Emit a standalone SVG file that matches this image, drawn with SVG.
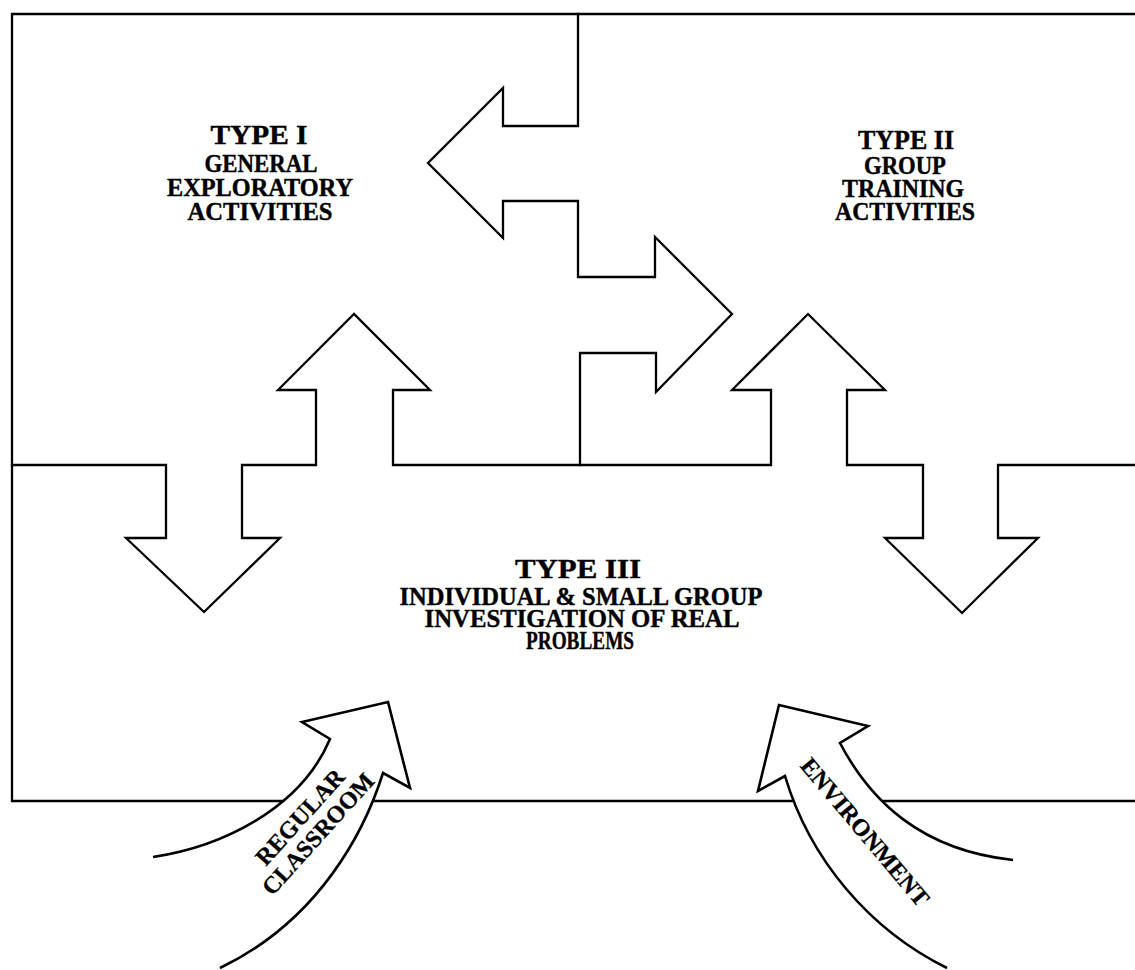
<svg xmlns="http://www.w3.org/2000/svg" width="1135" height="970" viewBox="0 0 1135 970">
  <style>
    .ln { fill: none; stroke: #000; stroke-width: 2.3; stroke-linejoin: miter; stroke-linecap: square; }
    .arw { fill: #fff; stroke: #000; stroke-width: 2.6; stroke-linejoin: miter; }
    .hd { font-family: "Liberation Serif", "Times New Roman", serif; font-weight: bold; font-size: 27px; text-anchor: middle; fill: #000; stroke: #000; stroke-width: 0.4; }
    .sb { font-family: "Liberation Serif", "Times New Roman", serif; font-weight: bold; font-size: 25px; text-anchor: middle; fill: #000; stroke: #000; stroke-width: 0.4; }
    .cv { font-family: "Liberation Serif", "Times New Roman", serif; font-weight: bold; font-size: 24px; text-anchor: middle; fill: #000; stroke: #000; stroke-width: 0.3; }
  </style>
  <rect width="1135" height="970" fill="#fff"/>

  <g id="frame">
    <polyline class="ln" points="1135,14 12,14 12,801 1135,801"/>
  </g>

  <g id="connectors">
    <polyline class="ln" points="578,14 578,126 503,126 503,88 428,163 503,238 503,201 578,201 578,277 655,277 655,237 732,314 656,392 656,353 580,353 580,465"/>
    <polyline class="ln" points="12,465 166,465 166,538 126,538 204,612 280,538 242,538 242,465 316,465 316,390 278,390 354,314 430,390 393,390 393,465 771,465 771,390 732,390 808,314 885,390 847,390 847,465 923,465 923,538 885,538 962,613 1038,538 998,538 998,465 1135,465"/>
  </g>

  <g id="type1">
    <text class="hd" x="259" y="144" textLength="97" lengthAdjust="spacingAndGlyphs">TYPE I</text>
    <text class="sb" x="261" y="172" textLength="113" lengthAdjust="spacingAndGlyphs">GENERAL</text>
    <text class="sb" x="260" y="196" textLength="186" lengthAdjust="spacingAndGlyphs">EXPLORATORY</text>
    <text class="sb" x="260" y="220" textLength="145" lengthAdjust="spacingAndGlyphs">ACTIVITIES</text>
  </g>

  <g id="type2">
    <text class="hd" x="906" y="149" textLength="96" lengthAdjust="spacingAndGlyphs">TYPE II</text>
    <text class="sb" x="905" y="174" textLength="82" lengthAdjust="spacingAndGlyphs">GROUP</text>
    <text class="sb" x="903" y="197" textLength="122" lengthAdjust="spacingAndGlyphs">TRAINING</text>
    <text class="sb" x="905" y="220" textLength="140" lengthAdjust="spacingAndGlyphs">ACTIVITIES</text>
  </g>

  <g id="type3">
    <text class="hd" x="578" y="578" textLength="126" lengthAdjust="spacingAndGlyphs">TYPE III</text>
    <text class="sb" x="581" y="605" textLength="363" lengthAdjust="spacingAndGlyphs">INDIVIDUAL &amp; SMALL GROUP</text>
    <text class="sb" x="582" y="627" textLength="315" lengthAdjust="spacingAndGlyphs">INVESTIGATION OF REAL</text>
    <text class="sb" x="580" y="649" textLength="108" lengthAdjust="spacingAndGlyphs">PROBLEMS</text>
  </g>

  <g id="regular-classroom">
    <path class="arw" d="M153,857 C220,847 300,810 330,739 L302,722 L388,702 L410,788 L383,773 C365,830 320,920 220,968"/>
    <text class="cv" transform="translate(300,817) rotate(-48)" y="8">REGULAR</text>
    <text class="cv" transform="translate(318,834) rotate(-48)" y="8">CLASSROOM</text>
  </g>

  <g id="environment">
    <path class="arw" d="M947,968 C870,930 810,860 785,776 L758,791 L779,705 L868,726 L840,743 C870,800 920,850 1013,860"/>
    <text class="cv" transform="translate(865,832) rotate(50)" y="8">ENVIRONMENT</text>
  </g>
</svg>
